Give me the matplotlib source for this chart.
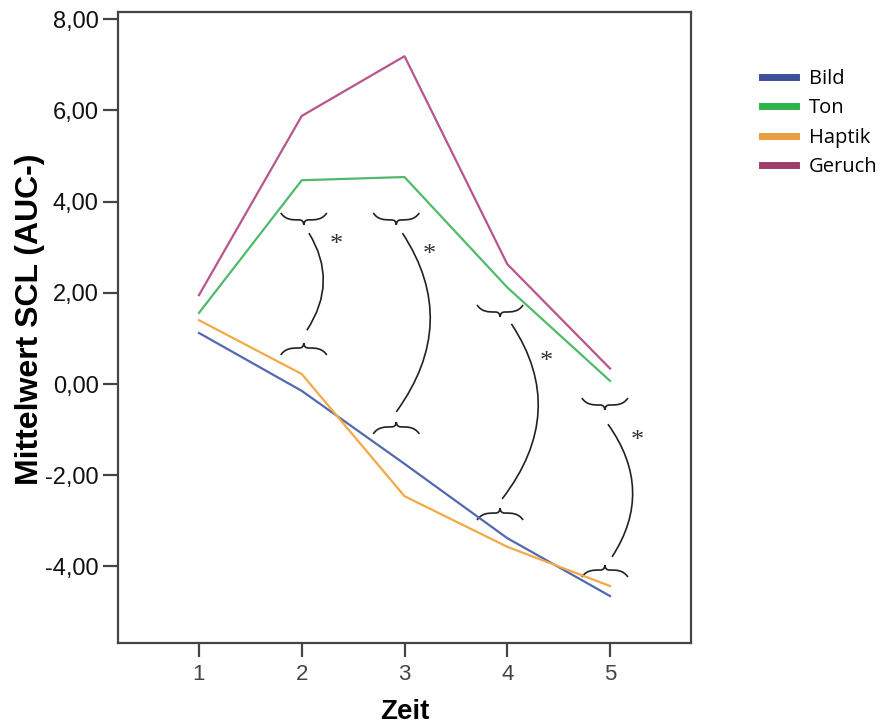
"""
Mittelwert SCL (AUC-) ueber die Zeit fuer vier Reizmodalitaeten,
mit Signifikanzklammern zwischen Ton/Geruch und Bild/Haptik.
"""

import matplotlib
matplotlib.use("Agg")
import matplotlib.pyplot as plt
from matplotlib.path import Path
from matplotlib.patches import PathPatch

# --- data -------------------------------------------------------------
zeit = [1, 2, 3, 4, 5]
bild = [1.12, -0.15, -1.75, -3.38, -4.65]
ton = [1.56, 4.47, 4.54, 2.12, 0.07]
haptik = [1.40, 0.22, -2.46, -3.57, -4.43]
geruch = [1.95, 5.88, 7.19, 2.63, 0.34]

series = ["Bild", "Ton", "Haptik", "Geruch"]
y_ticks = [8, 6, 4, 2, 0, -2, -4]
y_ticklabels = ["8,00", "6,00", "4,00", "2,00", "0,00", "-2,00", "-4,00"]

# significance brackets: x centre, upper brace level, lower brace level
brace_x = [2.02, 2.92, 3.93, 4.95]
brace_top = [3.60, 3.60, 1.58, -0.46]
brace_bottom = [0.79, -0.94, -2.83, -4.08]
# connecting arcs: start (top) and end (bottom) points, max x of the bow
arc_start = [(2.07, 3.31), (2.98, 3.31), (4.04, 1.32), (4.98, -0.88)]
arc_end = [(2.05, 1.18), (2.92, -0.61), (3.95, -2.52), (5.02, -3.79)]
arc_bulge = [2.21, 3.25, 4.30, 5.22]
star_pos = [(2.34, 3.05), (3.24, 2.83), (4.38, 0.49), (5.27, -1.25)]

line_colors = {"Bild": "#5468ad", "Ton": "#4fbb6a", "Haptik": "#f2aa48", "Geruch": "#b8558c"}
legend_colors = {"Bild": "#3e4f98", "Ton": "#2fb34d", "Haptik": "#e8a040", "Geruch": "#9c3f6c"}


def brace_path(cx, cy, w, h, down=True):
    """Horizontal curly brace; down=True puts the centre tip below the arms."""
    s = 1 if down else -1
    verts = [
        (cx - w, cy + s * h),
        (cx - 0.8 * w, cy), (cx - 0.5 * w, cy), (cx - 0.22 * w, cy),
        (cx - 0.07 * w, cy), (cx - 0.02 * w, cy - s * 0.2 * h), (cx, cy - s * 0.7 * h),
        (cx + 0.02 * w, cy - s * 0.2 * h), (cx + 0.07 * w, cy), (cx + 0.22 * w, cy),
        (cx + 0.5 * w, cy), (cx + 0.8 * w, cy), (cx + w, cy + s * h),
    ]
    codes = [Path.MOVETO] + [Path.CURVE4] * 12
    return Path(verts, codes)


def arc_path(p0, p1, bulge):
    cx = 2 * bulge - 0.5 * (p0[0] + p1[0])
    cy = 0.5 * (p0[1] + p1[1])
    return Path([p0, (cx, cy), p1], [Path.MOVETO, Path.CURVE3, Path.CURVE3])


fig = plt.figure(figsize=(8.83, 7.27), dpi=100)
ax = fig.add_axes([118 / 883, 84 / 727, (691 - 118) / 883, (643 - 12) / 727])

values = {"Bild": bild, "Ton": ton, "Haptik": haptik, "Geruch": geruch}
for name in series:
    ax.plot(zeit, values[name], color=line_colors[name], lw=1.6)

ax.set_xlim(0.212, 5.788)
ax.set_ylim(-5.68, 8.16)

w_brace = 23 / 102.75
h_brace = 7 / 45.6
for i in range(len(brace_x)):
    ax.add_patch(PathPatch(brace_path(brace_x[i], brace_top[i], w_brace, h_brace, down=True),
                           fill=False, lw=1.2, color="#222222"))
    ax.add_patch(PathPatch(brace_path(brace_x[i], brace_bottom[i], w_brace, h_brace, down=False),
                           fill=False, lw=1.2, color="#222222"))
    ax.add_patch(PathPatch(arc_path(arc_start[i], arc_end[i], arc_bulge[i]),
                           fill=False, lw=1.2, color="#222222"))
    ax.text(star_pos[i][0], star_pos[i][1], "*", fontsize=19, family="Liberation Serif",
            ha="center", va="center", color="#333333")

for sp in ax.spines.values():
    sp.set_color("#444444")
    sp.set_linewidth(1.6)

ax.set_xticks(zeit)
ax.set_xticklabels([str(z) for z in zeit], fontsize=16, family="Liberation Sans", color="#444444")
ax.set_yticks(y_ticks)
ax.set_yticklabels(y_ticklabels, fontsize=17, family="Liberation Sans", color="#111111")
ax.tick_params(axis="y", direction="out", length=11, width=1.6, color="#444444", pad=3)
ax.tick_params(axis="x", direction="out", length=10, width=1.6, color="#444444", pad=5)

ax.set_xlabel("Zeit", fontsize=20, fontweight="bold", family="Liberation Sans")
ax.xaxis.set_label_coords(0.5, -0.088)
ax.set_ylabel("Mittelwert SCL (AUC-)", fontsize=23, fontweight="bold",
              family="Liberation Sans")
ax.yaxis.set_label_coords(-0.128, 0.513)

handles = [plt.Line2D([], [], color=legend_colors[n], lw=5) for n in series]
fig.legend(handles, series, loc="upper left", bbox_to_anchor=(762 / 883, 1 - 69 / 727),
           frameon=False, prop={"family": "Open Sans", "size": 14.5},
           handlelength=1.68, handletextpad=0.65, labelspacing=0.47, borderpad=0,
           borderaxespad=0)

fig.savefig("out.png", dpi=100)
